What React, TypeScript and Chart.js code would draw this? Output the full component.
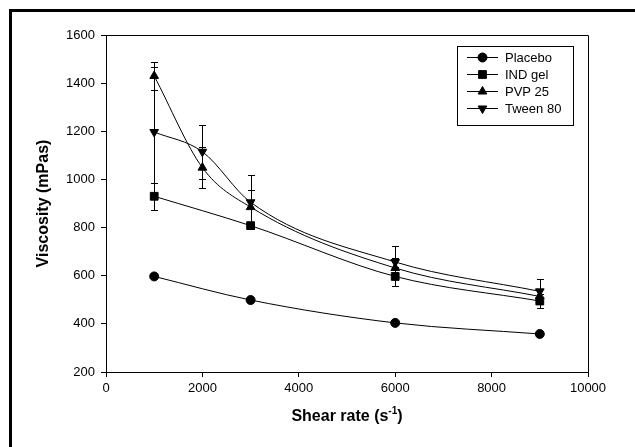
import React, { useEffect, useRef } from 'react';
import { Chart, registerables } from 'chart.js';
import { drawPoint } from 'chart.js/helpers';

Chart.register(...registerables);

// ---- data ----
const seriesNames = ['Placebo', 'IND gel', 'PVP 25', 'Tween 80'];

const placeboShear = [1000, 3000, 6000, 9000];
const placeboViscosity = [597, 499, 404, 358];

const indGelShear = [1000, 3000, 6000, 9000];
const indGelViscosity = [930, 808, 597, 495];
const indGelError = [57, 15, 41, 31];

const pvpShear = [1000, 2000, 3000, 6000, 9000];
const pvpViscosity = [1430, 1049, 885, 632, 514];
const pvpError = [57, 85, 71, 40, 30];

const tweenShear = [1000, 2000, 3000, 6000, 9000];
const tweenViscosity = [1197, 1115, 905, 657, 535];
const tweenError = [268, 113, 113, 67, 52];

const xTicks = [0, 2000, 4000, 6000, 8000, 10000];
const yTicks = [200, 400, 600, 800, 1000, 1200, 1400, 1600];

const xTitle = 'Shear rate (s';
const xTitleSup = '-1';
const yTitle = 'Viscosity (mPas)';

// ---- styles ----
const FONT = '"Liberation Sans", Arial, sans-serif';
const markerStyles = ['circle', 'rect', 'triangle', 'triangle'];
const markerRotations = [0, 0, 0, 180];
const markerRadii = [4.5, 5.5, 5, 5];

const toPoints = (xs: number[], ys: number[]) => xs.map((x, i) => ({ x, y: ys[i] }));

const framePlugin = {
  id: 'frame',
  beforeDraw(chart: any) {
    const ctx = chart.ctx;
    ctx.save();
    ctx.strokeStyle = '#000';
    ctx.lineWidth = 3;
    ctx.strokeRect(10.5, 10.5, 800, 600);
    ctx.restore();
  },
  afterDraw(chart: any) {
    const { ctx, chartArea } = chart;
    const l = Math.round(chartArea.left) + 0.5;
    const r = Math.round(chartArea.right) + 0.5;
    const t = Math.round(chartArea.top) + 0.5;
    const b = Math.round(chartArea.bottom) + 0.5;
    ctx.save();
    ctx.strokeStyle = '#000';
    ctx.lineWidth = 1;
    ctx.beginPath();
    ctx.moveTo(l, t);
    ctx.lineTo(r, t);
    ctx.lineTo(r, b);
    ctx.stroke();

    // axis titles
    ctx.fillStyle = '#000';
    ctx.font = `bold 16px ${FONT}`;
    ctx.textBaseline = 'middle';
    ctx.textAlign = 'center';
    ctx.save();
    ctx.translate(44, (chartArea.top + chartArea.bottom) / 2);
    ctx.rotate(-Math.PI / 2);
    ctx.fillText(yTitle, 0, 0);
    ctx.restore();

    ctx.textBaseline = 'alphabetic';
    ctx.textAlign = 'left';
    ctx.font = `bold 16px ${FONT}`;
    const w1 = ctx.measureText(xTitle).width;
    const w3 = ctx.measureText(')').width;
    ctx.font = `bold 10px ${FONT}`;
    const w2 = ctx.measureText(xTitleSup).width;
    const total = w1 + w2 + w3;
    const cx = (chartArea.left + chartArea.right) / 2;
    let x = cx - total / 2;
    const base = 421;
    ctx.font = `bold 16px ${FONT}`;
    ctx.fillText(xTitle, x, base);
    x += w1;
    ctx.font = `bold 10px ${FONT}`;
    ctx.fillText(xTitleSup, x, base - 7);
    x += w2;
    ctx.font = `bold 16px ${FONT}`;
    ctx.fillText(')', x, base);

    // legend
    const boxL = 457.5, boxT = 46.5, boxW = 116, boxH = 79;
    ctx.strokeRect(boxL, boxT, boxW, boxH);
    ctx.font = `13px ${FONT}`;
    ctx.textBaseline = 'middle';
    seriesNames.forEach((name, i) => {
      const y = 57.5 + i * 17;
      ctx.beginPath();
      ctx.moveTo(467, y);
      ctx.lineTo(498, y);
      ctx.stroke();
      drawPoint(ctx, {
        pointStyle: markerStyles[i],
        radius: markerRadii[i],
        rotation: markerRotations[i],
        borderWidth: 1,
      } as any, 482.5, y);
      ctx.fillText(name, 505, y + 0.5);
    });
    ctx.restore();
  },
};

const errorBarPlugin = {
  id: 'errorBars',
  beforeDatasetsDraw(chart: any) {
    const { ctx } = chart;
    const xs = chart.scales.x;
    const ys = chart.scales.y;
    ctx.save();
    ctx.strokeStyle = '#000';
    ctx.lineWidth = 1;
    chart.data.datasets.forEach((ds: any) => {
      const errs: number[] | undefined = ds.errors;
      if (!errs) return;
      ds.data.forEach((p: any, i: number) => {
        const e = errs[i];
        if (!e) return;
        const x = Math.round(xs.getPixelForValue(p.x)) + 0.5;
        const yt = Math.round(ys.getPixelForValue(p.y + e)) + 0.5;
        const yb = Math.round(ys.getPixelForValue(p.y - e)) + 0.5;
        ctx.beginPath();
        ctx.moveTo(x, yt);
        ctx.lineTo(x, yb);
        ctx.moveTo(x - 3.5, yt);
        ctx.lineTo(x + 3.5, yt);
        ctx.moveTo(x - 3.5, yb);
        ctx.lineTo(x + 3.5, yb);
        ctx.stroke();
      });
    });
    ctx.restore();
  },
};

export default function App() {
  const canvasRef = useRef<HTMLCanvasElement | null>(null);

  useEffect(() => {
    if (!canvasRef.current) return;
    const series = [
      { x: placeboShear, y: placeboViscosity, err: undefined },
      { x: indGelShear, y: indGelViscosity, err: indGelError },
      { x: pvpShear, y: pvpViscosity, err: pvpError },
      { x: tweenShear, y: tweenViscosity, err: tweenError },
    ];
    const chart = new Chart(canvasRef.current, {
      type: 'line',
      data: {
        datasets: series.map((s, i) => ({
          label: seriesNames[i],
          data: toPoints(s.x, s.y),
          errors: s.err,
          borderColor: '#000',
          borderWidth: 1,
          backgroundColor: '#000',
          pointBackgroundColor: '#000',
          pointBorderColor: '#000',
          pointBorderWidth: 1,
          pointStyle: markerStyles[i],
          pointRotation: markerRotations[i],
          pointRadius: markerRadii[i],
          cubicInterpolationMode: 'monotone',
          tension: 0.4,
          fill: false,
        })) as any,
      },
      options: {
        animation: false,
        responsive: false,
        devicePixelRatio: 1,
        layout: { padding: { left: 0, top: 35, right: 47, bottom: 0 } },
        plugins: {
          legend: { display: false },
          tooltip: { enabled: false },
        },
        scales: {
          x: {
            type: 'linear',
            min: 0,
            max: 10000,
            afterBuildTicks: (s: any) => {
              s.ticks = xTicks.map((v) => ({ value: v }));
            },
            afterFit: (s: any) => {
              s.height = 75;
            },
            grid: { drawOnChartArea: false, drawTicks: true, tickLength: 5, color: '#000' },
            border: { display: true, color: '#000', width: 1 },
            ticks: {
              color: '#000',
              font: { family: FONT, size: 13 },
              padding: 4,
              maxRotation: 0,
              callback: (v: any) => String(v),
            },
          },
          y: {
            type: 'linear',
            min: 200,
            max: 1600,
            afterBuildTicks: (s: any) => {
              s.ticks = yTicks.map((v) => ({ value: v }));
            },
            afterFit: (s: any) => {
              s.width = 106;
            },
            grid: { drawOnChartArea: false, drawTicks: true, tickLength: 5, color: '#000' },
            border: { display: true, color: '#000', width: 1 },
            ticks: {
              color: '#000',
              font: { family: FONT, size: 13 },
              padding: 6,
              callback: (v: any) => String(v),
            },
          },
        },
      } as any,
      plugins: [framePlugin, errorBarPlugin],
    });
    return () => chart.destroy();
  }, []);

  return (
    <div style={{ position: 'fixed', left: 0, top: 0, width: 635, height: 447, background: '#fff' }}>
      <canvas ref={canvasRef} width={635} height={447} style={{ display: 'block', width: 635, height: 447 }} />
    </div>
  );
}
